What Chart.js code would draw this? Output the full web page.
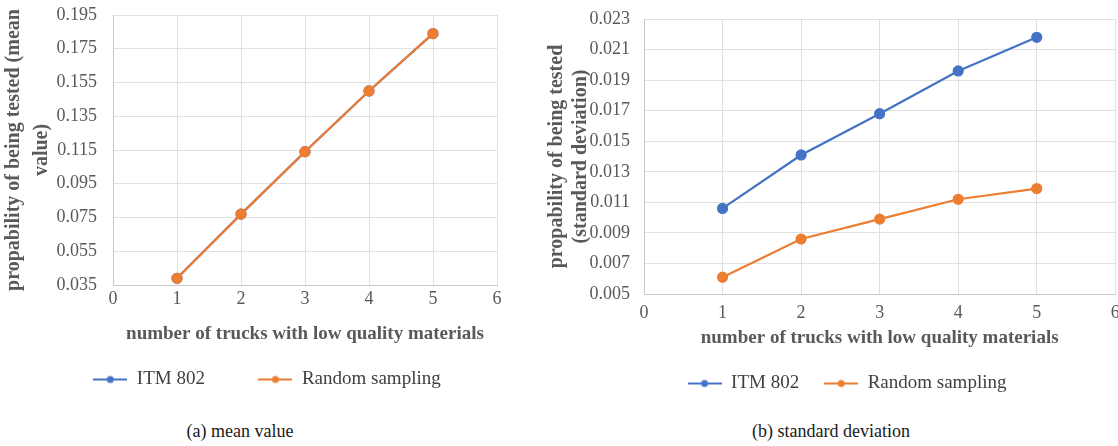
<!DOCTYPE html>
<html>
<head>
<meta charset="utf-8">
<script src="https://cdn.jsdelivr.net/npm/chart.js@4/dist/chart.umd.min.js"></script>
<style>
  body { margin: 0; background: #fff; width: 1118px; height: 446px; overflow: hidden; position: relative; }
  .box { position: absolute; top: 0; }
  .cap { position: absolute; top: 421px; font: 18px "Liberation Serif", serif; color: #1a1a1a; text-align: center; }
</style>
</head>
<body>
<div class="box" style="left:0;width:520px;height:399px"><canvas id="chartA"></canvas></div>
<div class="box" style="left:540px;width:582px;height:403px"><canvas id="chartB"></canvas></div>
<div class="cap" style="left:140px;width:200px">(a) mean value</div>
<div class="cap" style="left:731px;width:200px">(b) standard deviation</div>
<script>
const trucks = [1, 2, 3, 4, 5];
const meanItm = [0.039, 0.077, 0.114, 0.150, 0.184];
const meanRandom = [0.039, 0.077, 0.114, 0.150, 0.184];
const sdItm = [0.0106, 0.0141, 0.0168, 0.0196, 0.0218];
const sdRandom = [0.0061, 0.0086, 0.0099, 0.0112, 0.0119];
const meanTicks = [0.035, 0.055, 0.075, 0.095, 0.115, 0.135, 0.155, 0.175, 0.195];
const sdTicks = [0.005, 0.007, 0.009, 0.011, 0.013, 0.015, 0.017, 0.019, 0.021, 0.023];

const blue = '#4472C4';
const orange = '#ED7D31';
const grey = '#595959';
const serif = '"Liberation Serif", "Times New Roman", serif';

// line-with-dot marker for the legend
function legendIcon(color) {
  const c = document.createElement('canvas');
  c.width = 34; c.height = 10;
  const ctx = c.getContext('2d');
  ctx.strokeStyle = color; ctx.lineWidth = 2;
  ctx.beginPath(); ctx.moveTo(0, 5); ctx.lineTo(34, 5); ctx.stroke();
  ctx.fillStyle = color;
  ctx.beginPath(); ctx.arc(17, 5, 3.5, 0, Math.PI * 2); ctx.fill();
  return c;
}

function makeChart(id, itm, rnd, ticks, yTitle, o) {
  const pts = v => trucks.map((x, i) => ({ x: x, y: v[i] }));
  const icons = [legendIcon(blue), legendIcon(orange)];
  return new Chart(document.getElementById(id), {
    type: 'line',
    data: {
      datasets: [
        { label: 'ITM 802', data: pts(itm), borderColor: blue, backgroundColor: blue, order: 2 },
        { label: 'Random sampling', data: pts(rnd), borderColor: orange, backgroundColor: orange, order: 1 }
      ].map(d => Object.assign(d, { borderWidth: 2.2, pointRadius: 4.5, pointStyle: 'circle', tension: 0 }))
    },
    options: {
      responsive: true,
      maintainAspectRatio: false,
      animation: false,
      layout: { padding: { top: o.top, right: o.right, left: o.left, bottom: 0 } },
      plugins: {
        tooltip: { enabled: false },
        legend: {
          position: 'bottom',
          labels: {
            usePointStyle: true,
            pointStyleWidth: 34,
            padding: 25,
            color: '#404040',
            font: { family: serif, size: 19 },
            generateLabels: chart => chart.data.datasets.map((d, i) => ({
              text: d.label + (i === 0 ? o.legendGap : ''), pointStyle: icons[i], fillStyle: d.borderColor,
              strokeStyle: d.borderColor, lineWidth: 0, datasetIndex: i, fontColor: '#404040'
            }))
          }
        }
      },
      scales: {
        x: {
          type: 'linear', min: 0, max: 6,
          ticks: { stepSize: 1, color: grey, font: { family: serif, size: 18 }, padding: 0 },
          grid: { color: '#e0e0e0', tickLength: o.xTickPad, tickColor: 'rgba(0,0,0,0)' },
          border: { color: '#c8c8c8' },
          title: { display: true, text: 'number of trucks with low quality materials', color: grey,
                   font: { family: serif, size: 19, weight: 'bold' }, padding: 0 },
          afterFit: s => { s.height = o.xHeight; }
        },
        y: {
          type: 'linear', min: ticks[0], max: ticks[ticks.length - 1],
          afterBuildTicks: s => { s.ticks = ticks.map(v => ({ value: v })); },
          ticks: { color: grey, font: { family: serif, size: 18 }, padding: 0,
                   callback: v => v.toFixed(3) },
          grid: { color: '#e0e0e0', tickLength: o.yTickPad, tickColor: 'rgba(0,0,0,0)' },
          border: { color: '#c8c8c8' },
          title: { display: true, text: yTitle, color: grey,
                   font: { family: serif, size: 20, weight: 'bold', lineHeight: o.titleLH },
                   padding: { top: o.titlePad, bottom: 0 } },
          afterFit: s => { s.width = o.yWidth; }
        }
      }
    }
  });
}

makeChart('chartA', meanItm, meanRandom, meanTicks,
  ['propability of being tested (mean', 'value)'],
  { top: 15, right: 23, left: 37, yWidth: 76, xHeight: 60, xTickPad: 3, yTickPad: 16,
    titleLH: 1.4, titlePad: -37, legendGap: '      ' });
makeChart('chartB', sdItm, sdRandom, sdTicks,
  ['propability of being tested', '(standard deviation)'],
  { top: 19, right: 0, left: 32, yWidth: 72, xHeight: 55, xTickPad: 8, yTickPad: 14,
    titleLH: 1.2, titlePad: -27, legendGap: '' });
</script>
</body>
</html>
